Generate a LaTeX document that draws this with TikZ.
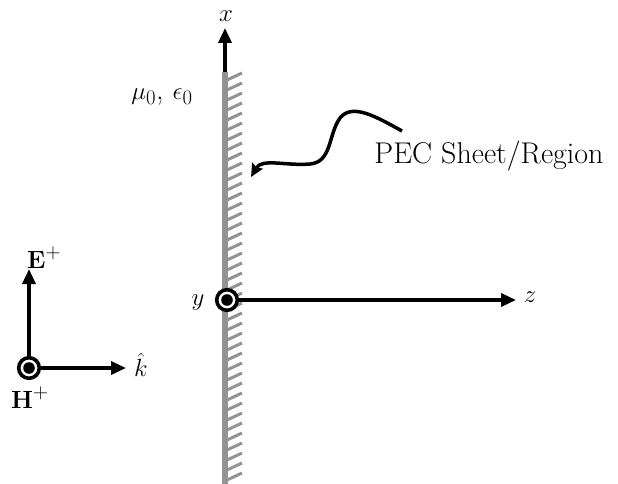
\documentclass[tikz,border=0pt]{standalone}
\usepackage{amsmath}
\usetikzlibrary{arrows.meta}
\begin{document}
\begin{tikzpicture}[x=1pt,y=-1pt,
  every node/.style={font=\fontsize{30}{34}\selectfont, inner sep=0pt},
  axis/.style={line width=3.5pt, -{Stealth[length=15pt,width=13pt,inset=0pt]}},
  wall/.style={line width=6.5pt, draw=gray!85},
  hatch/.style={line width=3pt, draw=gray!85},
  dotcirc/.style={circle, draw=black, line width=3.6pt, fill=white, minimum size=20.6pt}]
\useasboundingbox (0,0) rectangle (618,484);
% wall
\coordinate (wtop) at (225,72);
\coordinate (wbot) at (225,484);
\draw[wall] (wtop) -- (wbot);
\foreach \y in {80,90,...,484} {
  \draw[hatch] (227,\y) -- (242,\y-7);
}
% x axis
\coordinate (xtip) at (225,28);
\draw[axis] (wtop) -- (xtip);
\node (xl) at (226,16) {$x$};
% origin
\node[dotcirc] (o) at (227,300) {};
\fill (o.center) circle (5.8pt);
\coordinate (ztip) at (516,300);
\draw[axis] (o.east) -- (ztip);
\node (zl) at (530,297) {$z$};
\node (yl) at (198,303) {$y$};
% medium
\node (mu) at (162,97) {$\mu_0$, $\epsilon_0$};
% PEC label and arrow
\node (pec) at (489,156) {PEC Sheet/Region};
\coordinate (cs) at (402,131);
\coordinate (ce) at (251,177);
\draw[line width=3.5pt, -{Stealth[length=13pt,width=12pt,inset=2pt]}]
  (cs) .. controls (375,116) and (352,103) .. (340,118)
  .. controls (328,135) and (332,162) .. (310,164)
  .. controls (285,166) and (262,158) .. (ce);
% field triad
\node[dotcirc] (h) at (29,368) {};
\fill (h.center) circle (5.8pt);
\coordinate (etip) at (29,269);
\coordinate (ktip) at (126,368);
\draw[axis] (h.north) -- (etip);
\draw[axis] (h.east) -- (ktip);
\node[anchor=base west] (el) at (27,268) {$\mathbf{E}^{+}$};
\node (kl) at (141,365) {$\hat{k}$};
\node[anchor=base west] (hl) at (11,408) {$\mathbf{H}^{+}$};
\end{tikzpicture}
\end{document}
